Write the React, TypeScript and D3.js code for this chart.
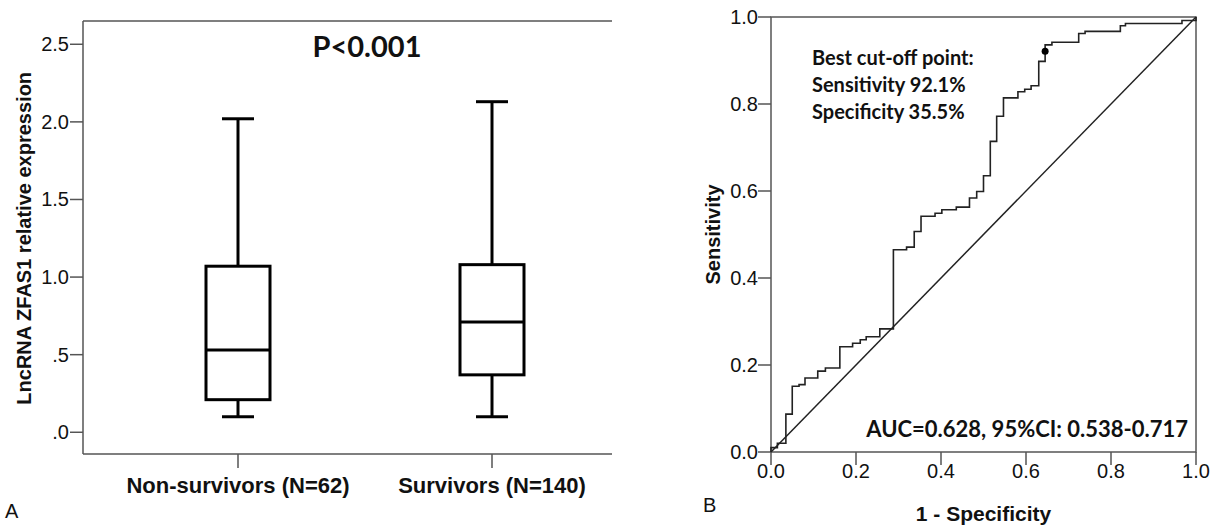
import React from "react";
import { scaleLinear, scalePoint, line, curveStepAfter } from "d3";

// Panel A: boxplot of lncRNA ZFAS1 expression
const groups = ["Non-survivors (N=62)", "Survivors (N=140)"];
const whiskerLow = [0.1, 0.1];
const q1 = [0.21, 0.37];
const median = [0.53, 0.71];
const q3 = [1.07, 1.08];
const whiskerHigh = [2.02, 2.13];
const boxTicks = [0, 0.5, 1, 1.5, 2, 2.5];
const boxTickLabels = [".0", ".5", "1.0", "1.5", "2.0", "2.5"];

// Panel B: ROC curve vertices (1 - specificity, sensitivity)
const rocFpr = [
  0, 0, 0.015, 0.035, 0.05, 0.066, 0.08, 0.11, 0.128, 0.162, 0.192, 0.21,
  0.224, 0.256, 0.288, 0.319, 0.337, 0.353, 0.386, 0.402, 0.436, 0.467, 0.484,
  0.5, 0.516, 0.531, 0.547, 0.581, 0.597, 0.612, 0.63, 0.645, 0.661, 0.724,
  0.739, 0.822, 0.834, 0.967, 1.0,
];
const rocTpr = [
  0, 0.01, 0.02, 0.087, 0.151, 0.155, 0.17, 0.186, 0.193, 0.242, 0.25, 0.258,
  0.265, 0.283, 0.465, 0.471, 0.507, 0.542, 0.549, 0.557, 0.563, 0.584, 0.599,
  0.635, 0.714, 0.772, 0.814, 0.828, 0.834, 0.842, 0.898, 0.936, 0.942, 0.962,
  0.967, 0.98, 0.985, 0.992, 1.0,
];
const cutoff = { fpr: 0.645, tpr: 0.921 };
const rocTicks = [0, 0.2, 0.4, 0.6, 0.8, 1.0];

const ARIAL = "'Liberation Sans', Arial, sans-serif";
const CALIBRI = "Lato, 'Open Sans', sans-serif";
const FRAME = "#555";
const INK = "#111";

const App = () => {
  // ---- panel A scales
  const yBox = scaleLinear().domain([-0.14, 2.65]).range([454, 21]);
  const xBox = scalePoint().domain(groups).range([238, 492]);
  const boxLeft = 83;
  const boxRight = 612;
  const boxW = 64;
  const capW = 32;

  // ---- panel B scales
  const xRoc = scaleLinear().domain([0, 1]).range([771, 1196]);
  const yRoc = scaleLinear().domain([0, 1]).range([452, 17]);
  const rocPts = rocFpr.map((f, i) => [f, rocTpr[i]] as [number, number]);
  const rocPath = line<[number, number]>()
    .x((d) => xRoc(d[0]))
    .y((d) => yRoc(d[1]))
    .curve(curveStepAfter)(rocPts);

  return (
    <svg
      width={1228}
      height={525}
      style={{ position: "absolute", left: 0, top: 0, background: "#fff" }}
    >
      {/* ================= Panel A ================= */}
      <g>
        {/* frame */}
        <line x1={boxLeft} x2={boxLeft} y1={yBox.range()[1]} y2={yBox.range()[0]} stroke={FRAME} strokeWidth={1.5} />
        <line x1={boxLeft} x2={boxRight} y1={yBox.range()[1]} y2={yBox.range()[1]} stroke={FRAME} strokeWidth={1.5} />
        <line x1={boxLeft} x2={boxRight} y1={yBox.range()[0]} y2={yBox.range()[0]} stroke={FRAME} strokeWidth={1.5} />

        {/* y ticks */}
        {boxTicks.map((t, i) => (
          <g key={t}>
            <line x1={boxLeft - 13} x2={boxLeft} y1={yBox(t)} y2={yBox(t)} stroke={FRAME} strokeWidth={1.5} />
            <text
              x={boxLeft - 14}
              y={yBox(t)}
              textAnchor="end"
              dominantBaseline="central"
              fontFamily={ARIAL}
              fontSize={20}
              fill={INK}
            >
              {boxTickLabels[i]}
            </text>
          </g>
        ))}

        {/* x ticks + category labels */}
        {groups.map((g) => (
          <g key={g}>
            <line x1={xBox(g)} x2={xBox(g)} y1={yBox.range()[0]} y2={yBox.range()[0] + 14} stroke={FRAME} strokeWidth={1.5} />
            <text
              x={xBox(g)}
              y={493}
              textAnchor="middle"
              fontFamily={ARIAL}
              fontWeight="bold"
              fontSize={22}
              fill={INK}
            >
              {g}
            </text>
          </g>
        ))}

        {/* boxes */}
        {groups.map((g, i) => {
          const cx = xBox(g) as number;
          return (
            <g key={g} stroke="#000" strokeWidth={3} fill="none">
              <line x1={cx} x2={cx} y1={yBox(whiskerHigh[i])} y2={yBox(q3[i])} />
              <line x1={cx} x2={cx} y1={yBox(q1[i])} y2={yBox(whiskerLow[i])} />
              <line x1={cx - capW / 2} x2={cx + capW / 2} y1={yBox(whiskerHigh[i])} y2={yBox(whiskerHigh[i])} />
              <line x1={cx - capW / 2} x2={cx + capW / 2} y1={yBox(whiskerLow[i])} y2={yBox(whiskerLow[i])} />
              <rect
                x={cx - boxW / 2}
                y={yBox(q3[i])}
                width={boxW}
                height={yBox(q1[i]) - yBox(q3[i])}
                fill="#fff"
              />
              <line x1={cx - boxW / 2} x2={cx + boxW / 2} y1={yBox(median[i])} y2={yBox(median[i])} />
            </g>
          );
        })}

        {/* p value */}
        <text x={367} y={57} textAnchor="middle" fontFamily={CALIBRI} fontWeight="bold" fontSize={29} fill={INK}>
          P&lt;0.001
        </text>

        {/* y axis title */}
        <text
          transform={`translate(31, ${yBox(1.25)}) rotate(-90)`}
          textAnchor="middle"
          fontFamily={ARIAL}
          fontWeight="bold"
          fontSize={20}
          fill={INK}
        >
          LncRNA ZFAS1 relative expression
        </text>

        <text x={5} y={518} fontFamily={ARIAL} fontSize={20} fill={INK}>
          A
        </text>
      </g>

      {/* ================= Panel B ================= */}
      <g>
        <rect
          x={xRoc(0)}
          y={yRoc(1)}
          width={xRoc(1) - xRoc(0)}
          height={yRoc(0) - yRoc(1)}
          fill="none"
          stroke={FRAME}
          strokeWidth={1.5}
        />

        {rocTicks.map((t) => (
          <g key={`x${t}`}>
            <line x1={xRoc(t)} x2={xRoc(t)} y1={yRoc(0)} y2={yRoc(0) + 13} stroke={FRAME} strokeWidth={1.5} />
            <text x={xRoc(t)} y={478} textAnchor="middle" fontFamily={ARIAL} fontSize={20} fill={INK}>
              {t.toFixed(1)}
            </text>
          </g>
        ))}
        {rocTicks.map((t) => (
          <g key={`y${t}`}>
            <line x1={xRoc(0) - 13} x2={xRoc(0)} y1={yRoc(t)} y2={yRoc(t)} stroke={FRAME} strokeWidth={1.5} />
            <text
              x={xRoc(0) - 13}
              y={yRoc(t)}
              textAnchor="end"
              dominantBaseline="central"
              fontFamily={ARIAL}
              fontSize={20}
              fill={INK}
            >
              {t.toFixed(1)}
            </text>
          </g>
        ))}

        {/* reference diagonal */}
        <line x1={xRoc(0)} y1={yRoc(0)} x2={xRoc(1)} y2={yRoc(1)} stroke="#222" strokeWidth={1.5} />

        {/* ROC curve */}
        <path d={rocPath ?? ""} fill="none" stroke="#222" strokeWidth={1.6} />
        <circle cx={xRoc(cutoff.fpr)} cy={yRoc(cutoff.tpr)} r={3.5} fill="#000" />

        {/* annotations */}
        <g fontFamily={CALIBRI} fontWeight="bold" fontSize={20} fill={INK}>
          <text x={812} y={65}>Best cut-off point:</text>
          <text x={812} y={92}>Sensitivity 92.1%</text>
          <text x={812} y={119}>Specificity 35.5%</text>
        </g>
        <text x={1188} y={437} textAnchor="end" fontFamily={CALIBRI} fontWeight="bold" fontSize={22} fill={INK}>
          AUC=0.628, 95%CI: 0.538-0.717
        </text>

        {/* axis titles */}
        <text x={xRoc(0.5)} y={521} textAnchor="middle" fontFamily={ARIAL} fontWeight="bold" fontSize={21} fill={INK}>
          1 - Specificity
        </text>
        <text
          transform={`translate(720, ${yRoc(0.5)}) rotate(-90)`}
          textAnchor="middle"
          fontFamily={ARIAL}
          fontWeight="bold"
          fontSize={20}
          fill={INK}
        >
          Sensitivity
        </text>
        <text x={703} y={512} fontFamily={ARIAL} fontSize={20} fill={INK}>
          B
        </text>
      </g>
    </svg>
  );
};

export default App;
